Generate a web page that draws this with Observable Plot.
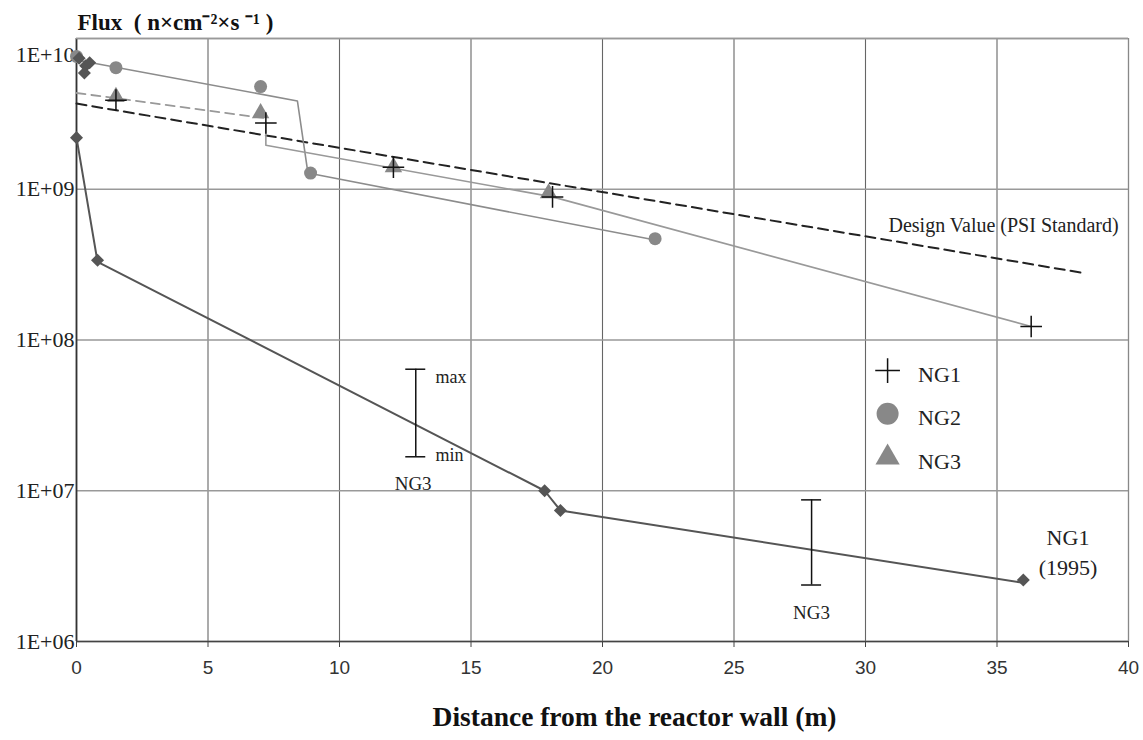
<!DOCTYPE html>
<html><head><meta charset="utf-8">
<script src="https://cdn.jsdelivr.net/npm/d3@7"></script>
<script src="https://cdn.jsdelivr.net/npm/@observablehq/plot@0.6"></script>
<style>body{margin:0;background:#fff;}</style>
</head><body><div id="chart"></div>
<script>
// ---- axes ----
const xTicks = [0, 5, 10, 15, 20, 25, 30, 35, 40];
const yTicks = [1e6, 1e7, 1e8, 1e9];
const yTickLabels = ["1E+06", "1E+07", "1E+08", "1E+09"];
const yTopTick = [1e10];
const yTopLabel = ["1E+10"];
const yTitle = "Flux\u00a0 ( n\u00d7cm\u207b\u00b2\u00d7s \u207b\u00b9 )";
const xTitle = "Distance from the reactor wall (m)";

// ---- NG1 (plus markers) ----
const ng1X = [1.5, 7.2, 12.05, 18.1, 36.3];
const ng1Y = [3.9e9, 2.75e9, 1.4e9, 8.9e8, 1.23e8];
const ng1LineX = [7.2, 7.2, 18.1, 36.3];
const ng1LineY = [2.75e9, 1.96e9, 8.9e8, 1.23e8];

// ---- NG2 (circles) ----
const ng2X = [0.0, 1.5, 7.0, 8.9, 22.0];
const ng2Y = [7.6e9, 6.4e9, 4.8e9, 1.28e9, 4.7e8];
const ng2LineX = [0, 8.4, 8.8, 22.0];
const ng2LineY = [7.2e9, 3.85e9, 1.28e9, 4.6e8];

// ---- NG3 (triangles) ----
const ng3X = [1.5, 7.0, 12.05, 17.95];
const ng3Y = [4.1e9, 3.2e9, 1.4e9, 9.4e8];
const ng3LineX = [0, 7.1];
const ng3LineY = [4.35e9, 2.97e9];

// ---- NG1 (1995) diamonds ----
const ng95X = [0.1, 0.35, 0.3, 0.5, 0.0, 0.8, 17.8, 18.4, 36.0];
const ng95Y = [7.4e9, 6.6e9, 5.9e9, 6.9e9, 2.2e9, 3.38e8, 1.0e7, 7.4e6, 2.56e6];
const ng95LineX = [0.0, 0.8, 17.8, 18.4, 36.0];
const ng95LineY = [2.2e9, 3.3e8, 1.0e7, 7.4e6, 2.45e6];

// ---- Design value (PSI standard) ----
const designX = [0, 38.2];
const designY = [3.7e9, 2.8e8];

// ---- NG3 min/max bars ----
const errX = [12.9, 27.95];
const errMax = [6.4e7, 8.7e6];
const errMin = [1.68e7, 2.37e6];
const capHalf = 0.38;

// ---- annotations ----
const designLabel = ["Design Value (PSI Standard)"]; const designLabelX = [35.25]; const designLabelY = [5.77e8];
const mmLabels = ["max", "min"]; const mmX = [13.65, 13.65]; const mmY = [5.64e7, 1.71e7];
const ng3Labels = ["NG3", "NG3"]; const ng3LabX = [12.8, 27.95]; const ng3LabY = [1.11e7, 1.55e6];
const ng95Labels = ["NG1", "(1995)"]; const ng95LabX = [37.7, 37.7]; const ng95LabY = [4.87e6, 3.08e6];

// ---- legend ----
const legendLabels = ["NG1", "NG2", "NG3"];
const legendSymX = 30.84;
const legendTextX = 32.0;
const legendY = [6.27e7, 3.24e7, 1.66e7];

const pts = (xs, ys) => xs.map((x, i) => ({x, y: ys[i]}));
const serif = "Liberation Serif, Times New Roman, serif";
const sans = "Liberation Sans, Arial, sans-serif";

const chart = Plot.plot({
  width: 1143,
  height: 740,
  marginLeft: 76,
  marginRight: 15,
  marginTop: 38,
  marginBottom: 99,
  style: {fontFamily: sans, fontSize: "19px", color: "#333", background: "#fff"},
  x: {domain: [0, 40], ticks: xTicks, label: null},
  y: {type: "log", domain: [1e6, 1e10], label: null, axis: null},
  marks: [
    // grid
    Plot.ruleX(xTicks, {stroke: "#666", strokeWidth: 1.1}),
    Plot.ruleY([...yTicks, ...yTopTick], {stroke: "#999", strokeWidth: 1.6}),
    Plot.ruleX([0], {stroke: "#333", strokeWidth: 1.8}),
    Plot.ruleY([1e6], {stroke: "#444", strokeWidth: 1.6}),
    // x axis ticks + labels
    Plot.axisX({ticks: xTicks, tickSize: 6, tickPadding: 13, tickFormat: d => String(d), stroke: "#444", label: null}),
    // y tick labels
    Plot.text(yTicks, {x: 0, y: d => d, text: (d, i) => yTickLabels[i], textAnchor: "end", dx: -2, fontFamily: serif, fontSize: 22, fill: "#222"}),
    Plot.text(yTopTick, {x: 0, y: d => d, text: (d, i) => yTopLabel[i], textAnchor: "end", dx: -2, dy: 16, fontFamily: serif, fontSize: 22, fill: "#222"}),
    // titles
    Plot.text([yTitle], {frameAnchor: "top-left", lineAnchor: "middle", dy: -16, dx: 1, textAnchor: "start", fontFamily: serif, fontWeight: "bold", fontSize: 23, fill: "#111"}),
    Plot.text([xTitle], {frameAnchor: "bottom", lineAnchor: "middle", dy: 76, dx: 32, fontFamily: serif, fontWeight: "bold", fontSize: 27.5, fill: "#111"}),
    // design value dashed
    Plot.line(pts(designX, designY), {x: "x", y: "y", stroke: "#222", strokeWidth: 2, strokeDasharray: "10,6"}),
    // NG3 dashed trend
    Plot.line(pts(ng3LineX, ng3LineY), {x: "x", y: "y", stroke: "#999", strokeWidth: 1.8, strokeDasharray: "9,6"}),
    // NG2 line
    Plot.line(pts(ng2LineX, ng2LineY), {x: "x", y: "y", stroke: "#8c8c8c", strokeWidth: 1.6}),
    // NG1 line
    Plot.line(pts(ng1LineX, ng1LineY), {x: "x", y: "y", stroke: "#999", strokeWidth: 1.6}),
    // NG1 1995 line
    Plot.line(pts(ng95LineX, ng95LineY), {x: "x", y: "y", stroke: "#555", strokeWidth: 2}),
    // markers
    Plot.dot(pts(ng2X, ng2Y), {x: "x", y: "y", symbol: "circle", r: 6.5, fill: "#888", stroke: "none"}),
    Plot.dot(pts(ng3X, ng3Y), {x: "x", y: "y", symbol: "triangle", r: 6.5, fill: "#888", stroke: "none"}),
    Plot.dot(pts(ng95X, ng95Y), {x: "x", y: "y", symbol: "square", rotate: 45, r: 5.2, fill: "#555", stroke: "none"}),
    Plot.dot(pts(ng1X, ng1Y), {x: "x", y: "y", symbol: "plus", r: 7, stroke: "#111", strokeWidth: 1.5}),
    // NG3 min/max bars
    Plot.ruleX(errX, {x: d => d, y1: (d, i) => errMin[i], y2: (d, i) => errMax[i], stroke: "#111", strokeWidth: 1.5}),
    Plot.ruleY(errMax, {y: d => d, x1: (d, i) => errX[i] - capHalf, x2: (d, i) => errX[i] + capHalf, stroke: "#111", strokeWidth: 1.5}),
    Plot.ruleY(errMin, {y: d => d, x1: (d, i) => errX[i] - capHalf, x2: (d, i) => errX[i] + capHalf, stroke: "#111", strokeWidth: 1.5}),
    // annotations
    Plot.text(designLabel, {x: (d, i) => designLabelX[i], y: (d, i) => designLabelY[i], text: d => d, fontFamily: serif, fontSize: 20, fill: "#222"}),
    Plot.text(mmLabels, {x: (d, i) => mmX[i], y: (d, i) => mmY[i], text: d => d, textAnchor: "start", fontFamily: serif, fontSize: 18, fill: "#222"}),
    Plot.text(ng3Labels, {x: (d, i) => ng3LabX[i], y: (d, i) => ng3LabY[i], text: d => d, fontFamily: serif, fontSize: 19, fill: "#222"}),
    Plot.text(ng95Labels, {x: (d, i) => ng95LabX[i], y: (d, i) => ng95LabY[i], text: d => d, fontFamily: serif, fontSize: 22, fill: "#222"}),
    // legend
    Plot.dot([legendY[0]], {x: legendSymX, y: d => d, symbol: "plus", r: 8, stroke: "#111", strokeWidth: 1.5}),
    Plot.dot([legendY[1]], {x: legendSymX, y: d => d, symbol: "circle", r: 11, fill: "#888"}),
    Plot.dot([legendY[2]], {x: legendSymX, y: d => d, symbol: "triangle", r: 9, fill: "#888"}),
    Plot.text(legendLabels, {x: legendTextX, y: (d, i) => legendY[i], text: d => d, dy: 4, textAnchor: "start", fontFamily: serif, fontSize: 22, fill: "#222"}),
    // frame top/right
    Plot.ruleX([40], {stroke: "#888", strokeWidth: 1.2}),
    Plot.ruleY([1e10], {stroke: "#999", strokeWidth: 1.4})
  ]
});
document.getElementById("chart").appendChild(chart);
</script>
</body></html>
